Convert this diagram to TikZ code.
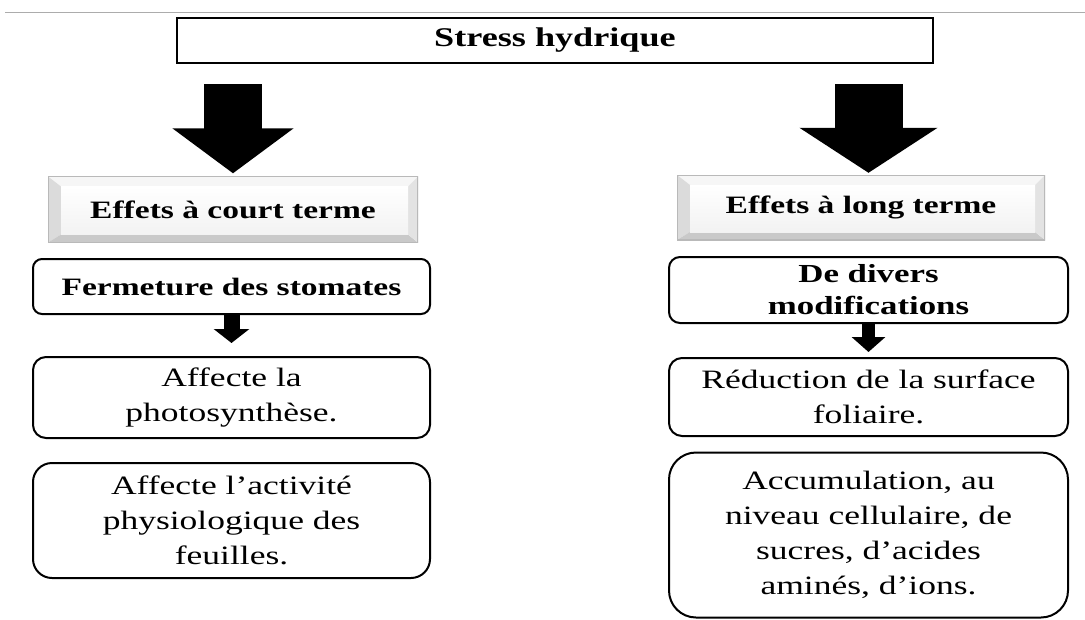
\documentclass[tikz,border=0pt]{standalone}
\usepackage{fontspec}
\setmainfont{Liberation Serif}[FakeStretch=1.34]
\usetikzlibrary{arrows.meta,calc}
\begin{document}
\begin{tikzpicture}[x=1pt,y=-1pt,
  txtreg/.style={font=\fontsize{26.5}{35}\selectfont, align=center},
  roundbox/.style={draw=black, line width=2pt, rounded corners=#1, fill=white,
    inner sep=0pt, align=center, font=\fontsize{26.5}{35}\selectfont},
  bevelbox/.style={inner sep=0pt, align=center,
    font=\bfseries\fontsize{25}{30}\selectfont,
    path picture={
      \path (path picture bounding box.north west) coordinate (bnw)
            (path picture bounding box.north east) coordinate (bne)
            (path picture bounding box.south west) coordinate (bsw)
            (path picture bounding box.south east) coordinate (bse);
      \coordinate (inw) at ([xshift=13pt,yshift=-10pt]bnw);
      \coordinate (ine) at ([xshift=-10pt,yshift=-10pt]bne);
      \coordinate (isw) at ([xshift=13pt,yshift=8pt]bsw);
      \coordinate (ise) at ([xshift=-10pt,yshift=8pt]bse);
      \fill[gray!7] (bnw)--(bne)--(ine)--(inw)--cycle;
      \fill[gray!28] (bnw)--(inw)--(isw)--(bsw)--cycle;
      \fill[gray!42] (bsw)--(isw)--(ise)--(bse)--cycle;
      \fill[gray!22] (bne)--(bse)--(ise)--(ine)--cycle;
      \shade[top color=white, bottom color=gray!10] (inw) rectangle (ise);
      \draw[gray!55, line width=1.2pt] (bnw) rectangle (bse);
    }},
  bigarrow/.style={line width=#1},
  smallarrow/.style={line width=#1}
]
\useasboundingbox (0,0) rectangle (1085,619);
\draw[gray!65, line width=1.2pt] (5,12.7) -- (1085,12.7);

\node[draw=black, line width=2.4pt, minimum width=756pt, minimum height=45pt, inner sep=0pt,
  font=\bfseries\fontsize{27}{30}\selectfont] (stress) at (555,40.5) {Stress hydrique};

\node[bevelbox, minimum width=370pt, minimum height=66pt] (effL) at (233,209.5) {Effets à court terme};
\node[bevelbox, minimum width=368pt, minimum height=65pt] (effR) at (861,207.5) {Effets à long terme};

\node[roundbox=9pt, minimum width=397pt, minimum height=55pt,
  font=\bfseries\fontsize{25}{30}\selectfont] (fer) at (231.5,286.5) {Fermeture des stomates};
\node[roundbox=11pt, minimum width=399pt, minimum height=66pt,
  font=\bfseries\fontsize{26}{32}\selectfont] (div) at (868.5,290) {De divers\\modifications};

\node[roundbox=13pt, minimum width=397pt, minimum height=81pt] (aff1) at (231.5,397.5)
  {Affecte la\\photosynthèse.};
\node[roundbox=19pt, minimum width=397pt, minimum height=115pt] (aff2) at (231.5,520.5)
  {Affecte l’activité\\physiologique des\\feuilles.};
\node[roundbox=13pt, minimum width=399pt, minimum height=78pt] (red) at (868.5,397)
  {Réduction de la surface\\foliaire.};
\node[roundbox=27pt, minimum width=399pt, minimum height=165pt] (acc) at (868.5,535)
  {Accumulation, au\\niveau cellulaire, de\\sucres, d’acides\\aminés, d’ions.};

% big arrows
\draw[line width=58pt, -{Triangle[width=119pt,length=45pt]}, shorten <=20pt, shorten >=3pt]
  (stress.south -| effL.north) -- (effL.north);
\coordinate (rt) at ([xshift=7.5pt]effR.north);
\draw[line width=68pt, -{Triangle[width=136pt,length=45pt]}, shorten <=20pt, shorten >=2pt]
  (stress.south -| rt) -- (rt);

% small arrows
\draw[line width=16pt, -{Triangle[width=35pt,length=14pt]}, shorten >=13pt]
  (fer.south) -- (aff1.north);
\draw[line width=13pt, -{Triangle[width=33pt,length=15pt]}, shorten <=-1pt, shorten >=5pt]
  (div.south) -- (red.north);
\end{tikzpicture}
\end{document}
